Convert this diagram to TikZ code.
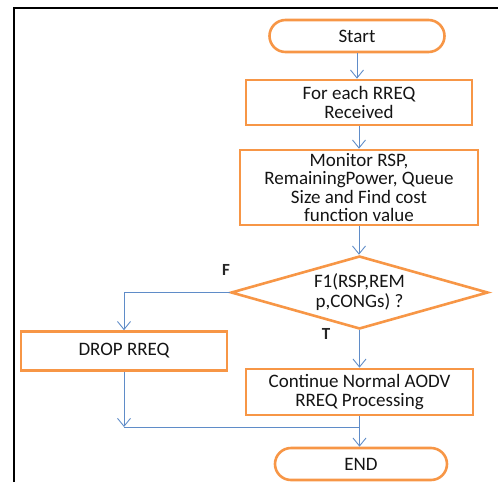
\documentclass[tikz,border=0pt]{standalone}
\usepackage{fontspec}
\setmainfont{Carlito}
\usetikzlibrary{arrows.meta,positioning,calc,shapes.geometric,shapes.misc}
\definecolor{boxorange}{RGB}{247,150,70}
\definecolor{flowblue}{RGB}{95,140,200}
\tikzset{proc/.style={draw=boxorange,line width=2.6pt,align=center,inner sep=0pt,text=black!92,font=\fontsize{19}{18.5}\selectfont},
term/.style={proc,rounded rectangle},
dec/.style={proc,diamond,aspect=3.52,font=\fontsize{19}{20}\selectfont},
flow/.style={-{Straight Barb[length=8pt,width=13pt]},draw=flowblue,line width=0.9pt},
link/.style={draw=flowblue,line width=0.9pt},
lab/.style={font=\fontsize{17}{17}\selectfont\bfseries,text=black!85,inner sep=0pt}}
\begin{document}
\begin{tikzpicture}[x=1pt,y=-1pt]
\useasboundingbox (0,0) rectangle (498,482);
\draw[line width=1.2pt] (14,482) -- (14,8) -- (498,8);
\node[term,minimum width=175pt,minimum height=32pt] (start) at (357,36) {Start};
\node[proc,minimum width=226pt,minimum height=45pt] (rreq) at (359,102.5) {For each RREQ\\Received};
\node[proc,minimum width=238pt,minimum height=75pt] (monitor) at (359,187.5) {Monitor RSP,\\RemainingPower, Queue\\Size and Find cost\\function value};
\node[dec,minimum width=257pt,minimum height=73pt] (check) at (359.5,292.5) {F1(RSP,REM\\p,CONGs) ?};
\node[proc,minimum width=206pt,minimum height=39pt] (drop) at (124,351) {DROP RREQ};
\node[proc,minimum width=227pt,minimum height=46pt] (cont) at (359.5,392) {Continue Normal AODV\\RREQ Processing};
\node[term,minimum width=172pt,minimum height=32pt] (fin) at (361,464) {END};
\node[lab] (fl) at (226,270) {F};
\node[lab] (tl) at (326,334) {T};
\coordinate (merge) at (360,427);
\draw[flow] (start.south) -- (start.south |- rreq.north);
\draw[flow] (rreq.south) -- (rreq.south |- monitor.north);
\draw[flow] (monitor.south) -- (monitor.south |- check.north);
\draw[flow] (check.west) -| (drop.north);
\draw[flow] (check.south) -- (check.south |- cont.north);
\draw[flow] (cont.south) -- (cont.south |- fin.north);
\draw[flow] (drop.south) -- (drop.south |- merge);
\draw[link] (drop.south |- merge) -- (merge);
\end{tikzpicture}
\end{document}
